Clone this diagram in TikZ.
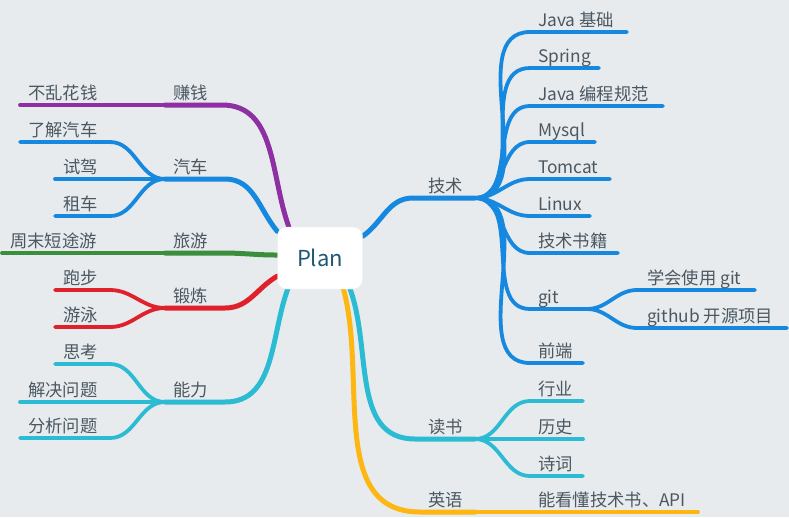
\documentclass[tikz,border=0pt]{standalone}
\usepackage{fontspec}
\setmainfont{Noto Sans CJK SC}
\usepackage{tikz}
\usetikzlibrary{backgrounds}
\definecolor{bg_grey}{HTML}{E7EBEE}
\definecolor{txt_grey}{HTML}{4B5862}
\definecolor{plan_blue}{HTML}{1F5873}
\definecolor{m_purple}{HTML}{8E2FA3}
\definecolor{m_blue}{HTML}{1688DF}
\definecolor{m_green}{HTML}{3B8E3C}
\definecolor{m_red}{HTML}{E0212B}
\definecolor{m_cyan}{HTML}{2BBCD3}
\definecolor{m_orange}{HTML}{FDB612}

\begin{document}
\begin{tikzpicture}[x=1pt,y=-1pt,
    branch/.style={line width=5pt,line cap=round},
    leaf/.style={line width=3.8pt,line cap=round},
    lbl/.style={anchor=base west,inner sep=0pt,font=\fontsize{17.3}{18}\selectfont,text=txt_grey}]
        \useasboundingbox (0,0) rectangle (789,517);
        % Centre
        \node[draw=black!8,fill=white,rounded corners=9pt,minimum width=85pt,minimum height=62pt,
              font=\fontsize{22}{22}\selectfont,text=plan_blue] (plan) at (320,258) {Plan};
        % Gauche : points
        \coordinate (zq-a) at (20,105);  \coordinate (zq-h) at (165,105); \coordinate (zq-b) at (222,105);
        \coordinate (qc-a) at (20,142);  \coordinate (qc-ab) at (110,142);
        \coordinate (qc-c) at (55,179);  \coordinate (qc-h) at (165,179); \coordinate (qc-b) at (225,179);
        \coordinate (qc-d) at (55,216);  \coordinate (qc-db) at (110,216);
        \coordinate (ly-a) at (2,253);   \coordinate (ly-h) at (165,253); \coordinate (ly-b) at (222,253);
        \coordinate (dl-a) at (55,290);  \coordinate (dl-ab) at (110,290);
        \coordinate (dl-h) at (165,308); \coordinate (dl-b) at (225,308);
        \coordinate (dl-c) at (55,327);  \coordinate (dl-cb) at (110,327);
        \coordinate (nl-a) at (55,364);  \coordinate (nl-ab) at (110,364);
        \coordinate (nl-c) at (20,402);  \coordinate (nl-h) at (165,402); \coordinate (nl-b) at (225,402);
        \coordinate (nl-d) at (20,438);  \coordinate (nl-db) at (110,438);
        % Gauche : textes
        \node[lbl] (zq) at ([shift={(8,-6)}]zq-h) {赚钱};
        \node[lbl] (zq-1) at ([shift={(8,-6)}]zq-a) {不乱花钱};
        \node[lbl] (qc) at ([shift={(8,-6)}]qc-h) {汽车};
        \node[lbl] (qc-1) at ([shift={(8,-6)}]qc-a) {了解汽车};
        \node[lbl] (qc-2) at ([shift={(8,-6)}]qc-c) {试驾};
        \node[lbl] (qc-3) at ([shift={(8,-6)}]qc-d) {租车};
        \node[lbl] (ly) at ([shift={(8,-6)}]ly-h) {旅游};
        \node[lbl] (ly-1) at ([shift={(8,-6)}]ly-a) {周末短途游};
        \node[lbl] (dl) at ([shift={(8,-6)}]dl-h) {锻炼};
        \node[lbl] (dl-1) at ([shift={(8,-6)}]dl-a) {跑步};
        \node[lbl] (dl-2) at ([shift={(8,-6)}]dl-c) {游泳};
        \node[lbl] (nl) at ([shift={(8,-6)}]nl-h) {能力};
        \node[lbl] (nl-1) at ([shift={(8,-6)}]nl-a) {思考};
        \node[lbl] (nl-2) at ([shift={(8,-6)}]nl-c) {解决问题};
        \node[lbl] (nl-3) at ([shift={(8,-6)}]nl-d) {分析问题};
        % Droite : points
        \coordinate (js-b) at (413,198); \coordinate (js-h) at (475,198);
        \coordinate (git-e) at (587,309);
        \coordinate (git1) at (637,290); \coordinate (git1-e) at (755,290);
        \coordinate (git2) at (637,328); \coordinate (git2-e) at (787,328);
        \coordinate (ds-b) at (415,439); \coordinate (ds-h) at (475,439);
        \coordinate (yy-b) at (420,512); \coordinate (yy-h) at (475,512);
        \coordinate (yy-1) at (530,512); \coordinate (yy-e) at (698,512);
        % Droite : textes
        \node[lbl] (js) at ([shift={(-47,-6)}]js-h) {技术};
        \node[lbl] (ds) at ([shift={(-47,-6)}]ds-h) {读书};
        \node[lbl] (yy) at ([shift={(-47,-6)}]yy-h) {英语};
        \node[lbl] (yy-t) at ([shift={(8,-6)}]yy-1) {能看懂技术书、API};
        \node[lbl] (git1-t) at ([shift={(10,-6)}]git1) {学会使用 git};
        \node[lbl] (git2-t) at ([shift={(10,-6)}]git2) {github 开源项目};
        \begin{scope}[on background layer]
            \fill[bg_grey] (0,0) rectangle (789,517);
            % Branches gauches
            \draw[leaf,m_purple] (zq-a) -- (zq-h);
            \draw[branch,m_purple] (zq-h) -- (zq-b) to[out=0,in=110] (plan.135);
            \draw[leaf,m_blue] (qc-a) -- (qc-ab) to[out=0,in=180] (qc-h);
            \draw[leaf,m_blue] (qc-c) -- (qc-h);
            \draw[leaf,m_blue] (qc-d) -- (qc-db) to[out=0,in=180] (qc-h);
            \draw[branch,m_blue] (qc-h) -- (qc-b) to[out=0,in=130] (plan.148);
            \draw[leaf,m_green] (ly-a) -- (ly-h);
            \draw[branch,m_green] (ly-h) -- (ly-b) to[out=0,in=180] (plan.176);
            \draw[leaf,m_red] (dl-a) -- (dl-ab) to[out=0,in=180] (dl-h);
            \draw[leaf,m_red] (dl-c) -- (dl-cb) to[out=0,in=180] (dl-h);
            \draw[branch,m_red] (dl-h) -- (dl-b) to[out=0,in=210] (plan.203);
            \draw[leaf,m_cyan] (nl-a) -- (nl-ab) to[out=0,in=180] (nl-h);
            \draw[leaf,m_cyan] (nl-c) -- (nl-h);
            \draw[leaf,m_cyan] (nl-d) -- (nl-db) to[out=0,in=180] (nl-h);
            \draw[branch,m_cyan] (nl-h) -- (nl-b) to[out=0,in=250] (plan.224);
            % Branches droites
            \draw[branch,m_blue] (plan.27) to[out=35,in=180] (js-b) -- (js-h);
            \draw[branch,m_cyan] (plan.314) to[out=-70,in=180] (ds-b) -- (ds-h);
            \draw[branch,m_orange] (plan.307) to[out=-75,in=180] (yy-b) -- (yy-h);
            \draw[leaf,m_orange] (yy-h) -- (yy-e);
            \draw[leaf,m_blue] (git-e) to[out=0,in=180] (git1) -- (git1-e);
            \draw[leaf,m_blue] (git-e) to[out=0,in=180] (git2) -- (git2-e);
        \end{scope}
        % Technique
        \foreach \n/\y/\e/\t in {a/32/627/Java 基础, b/68/599/Spring, c/106/663/Java 编程规范,
                d/142/595/Mysql, e/179/610/Tomcat, f/216/590/Linux, g/253/618/技术书籍,
                h/309/587/git, i/363/583/前端}{
            \coordinate (js\n) at (530,\y);
            \coordinate (js\n-e) at (\e,\y);
            \node[lbl] (js\n-t) at ([shift={(8,-6)}]js\n) {\t};
            \begin{scope}[on background layer]
                \draw[leaf,m_blue] (js-h) to[out=0,in=180] (js\n) -- (js\n-e);
            \end{scope}
        }
        % Lecture
        \foreach \n/\y/\t in {a/401/行业, b/439/历史, c/476/诗词}{
            \coordinate (ds\n) at (530,\y);
            \coordinate (ds\n-e) at (583,\y);
            \node[lbl] (ds\n-t) at ([shift={(8,-6)}]ds\n) {\t};
            \begin{scope}[on background layer]
                \draw[leaf,m_cyan] (ds-h) to[out=0,in=180] (ds\n) -- (ds\n-e);
            \end{scope}
        }
\end{tikzpicture}
\end{document}
